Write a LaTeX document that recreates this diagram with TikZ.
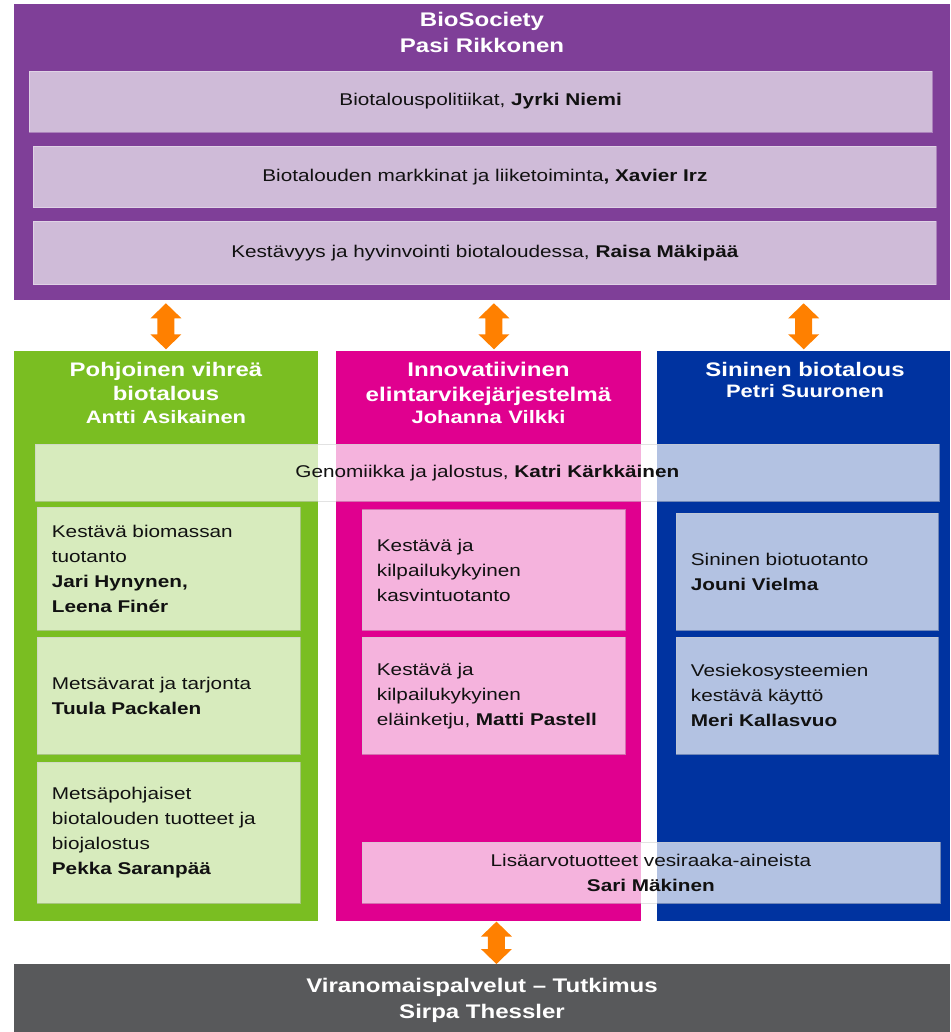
\documentclass[tikz,border=0pt]{standalone}
\usepackage{fontspec}
\setmainfont{Liberation Sans}[FakeStretch=1.22]
\usetikzlibrary{calc}

\definecolor{bsPurple}{RGB}{127,63,152}
\definecolor{bsLilac}{RGB}{207,187,216}
\definecolor{bsGreen}{RGB}{122,190,34}
\definecolor{bsMagenta}{RGB}{224,0,143}
\definecolor{bsBlue}{RGB}{0,51,160}
\definecolor{bsGray}{RGB}{88,89,91}
\definecolor{bsOrange}{RGB}{255,128,0}
\definecolor{bsInk}{RGB}{17,17,17}

\begin{document}
\begin{tikzpicture}[x=1pt,y=-1pt,
  panel/.style={rectangle, inner sep=0pt, anchor=north west},
  heading/.style={anchor=base, align=center, text=white, inner sep=0pt},
  lilacbar/.style={rectangle, anchor=north west, inner sep=0pt, fill=bsLilac,
    draw=white, draw opacity=0.35, line width=0.8pt, text=bsInk,
    font=\fontsize{17}{25}\selectfont},
  tint/.style={rectangle, anchor=north west, inner ysep=0pt, fill=white,
    fill opacity=0.7, text opacity=1, draw=black!20, draw opacity=0.55,
    line width=0.8pt, text=bsInk, font=\fontsize{17}{25}\selectfont},
  leftcell/.style={tint, inner xsep=15pt, align=left},
  midcell/.style={tint, inner xsep=0pt, align=center},
  twoway/.style={fill=bsOrange, draw=none,
    to path={let \p1=(\tikztostart), \p2=(\tikztotarget) in
      (\x1,\y1) -- (\x1+15.5pt,\y1-15pt) -- (\x1+8.5pt,\y1-15pt)
      -- (\x1+8.5pt,\y2+15pt) -- (\x1+15.5pt,\y2+15pt) -- (\x1,\y2)
      -- (\x1-15.5pt,\y2+15pt) -- (\x1-8.5pt,\y2+15pt)
      -- (\x1-8.5pt,\y1-15pt) -- (\x1-15.5pt,\y1-15pt) -- cycle}}]

\useasboundingbox (0,0) rectangle (950,1032);

% BioSociety block with its three cross-cutting themes
\node[panel, fill=bsPurple, minimum width=936.5pt, minimum height=295.5pt] (bio) at (13.5,4) {};
\node[heading, text width=400pt, font=\bfseries\fontsize{19.7}{26}\selectfont] (biohead) at (482,26.5)
  {BioSociety\\Pasi Rikkonen};
\node[lilacbar, minimum width=903.5pt, minimum height=61pt] (pol) at (28.5,70.7)
  {Biotalouspolitiikat, \textbf{Jyrki Niemi}};
\node[lilacbar, minimum width=903pt, minimum height=61.6pt] (mkt) at (33,145.7)
  {Biotalouden markkinat ja liiketoiminta\textbf{, Xavier Irz}};
\node[lilacbar, minimum width=903pt, minimum height=63.6pt] (sus) at (33,220.7)
  {Kestävyys ja hyvinvointi biotaloudessa, \textbf{Raisa Mäkipää}};

% Three programme columns
\node[panel, fill=bsGreen, minimum width=304.5pt, minimum height=570.5pt] (gcol) at (13.5,350.7) {};
\node[panel, fill=bsMagenta, minimum width=304.5pt, minimum height=570.5pt] (mcol) at (336,350.7) {};
\node[panel, fill=bsBlue, minimum width=293pt, minimum height=570.5pt] (scol) at (657,350.7) {};

\node[heading, text width=300pt, font=\bfseries\fontsize{19.6}{24.5}\selectfont] (ghead) at (166,376)
  {Pohjoinen vihreä\\biotalous\\[-2pt]{\fontsize{18}{22}\selectfont Antti Asikainen}};
\node[heading, text width=300pt, font=\bfseries\fontsize{19.8}{24.5}\selectfont] (mhead) at (488.5,376.5)
  {Innovatiivinen\\elintarvikejärjestelmä\\[-2pt]{\fontsize{18}{22}\selectfont Johanna Vilkki}};
\node[heading, text width=290pt, font=\bfseries\fontsize{19.6}{24.5}\selectfont] (shead) at (805,376.5)
  {Sininen biotalous\\[-3.5pt]{\fontsize{18}{22}\selectfont Petri Suuronen}};

% Theme spanning all three columns
\node[midcell, minimum width=904pt, minimum height=56.7pt] (gen) at (35,444)
  {Genomiikka ja jalostus, \textbf{Katri Kärkkäinen}};

% Green column groups
\node[leftcell, text width=233pt, minimum width=263pt, minimum height=123.5pt] (g1) at (36.5,506.5)
  {Kestävä biomassan\\tuotanto\\\textbf{Jari Hynynen,}\\\textbf{Leena Finér}};
\node[leftcell, text width=233pt, minimum width=263pt, minimum height=117.5pt] (g2) at (36.5,636.5)
  {Metsävarat ja tarjonta\\\textbf{Tuula Packalen}};
\node[leftcell, text width=233pt, minimum width=263pt, minimum height=141pt] (g3) at (36.5,761.5)
  {Metsäpohjaiset\\biotalouden tuotteet ja\\biojalostus\\\textbf{Pekka Saranpää}};

% Magenta column groups
\node[leftcell, text width=233.5pt, minimum width=263.5pt, minimum height=120.7pt] (m1) at (361.5,509.3)
  {Kestävä ja\\kilpailukykyinen\\kasvintuotanto};
\node[leftcell, text width=233.5pt, minimum width=263.5pt, minimum height=117.5pt] (m2) at (361.5,636.5)
  {Kestävä ja\\kilpailukykyinen\\eläinketju, \textbf{Matti Pastell}};

% Blue column groups
\node[leftcell, text width=232.5pt, minimum width=262.5pt, minimum height=117.3pt] (s1) at (675.5,512.7)
  {Sininen biotuotanto\\\textbf{Jouni Vielma}};
\node[leftcell, text width=232.5pt, minimum width=262.5pt, minimum height=117.5pt] (s2) at (675.5,636.5)
  {Vesiekosysteemien\\kestävä käyttö\\\textbf{Meri Kallasvuo}};

% Theme shared by the food and blue columns
\node[midcell, minimum width=578pt, minimum height=61pt] (val) at (361.5,841.7)
  {Lisäarvotuotteet vesiraaka-aineista\\\textbf{Sari Mäkinen}};

% Authority services block
\node[panel, fill=bsGray, minimum width=936.5pt, minimum height=68pt] (gray) at (13.5,964) {};
\node[heading, text width=600pt, font=\bfseries\fontsize{19.7}{26}\selectfont] (grayhead) at (482,992.3)
  {Viranomaispalvelut – Tutkimus\\Sirpa Thessler};

% Two-way links
\path[twoway] ([yshift=-3.4pt]bio.south -| gcol.north) to ([yshift=1.4pt]gcol.north);
\path[twoway] ([yshift=-3.4pt,xshift=5.5pt]bio.south -| mcol.north) to ([yshift=1.4pt,xshift=5.5pt]mcol.north);
\path[twoway] ([yshift=-3.4pt]bio.south -| scol.north) to ([yshift=1.4pt]scol.north);
\path[twoway] ([xshift=8pt]mcol.south) to ([xshift=8pt]mcol.south |- gray.north);
\end{tikzpicture}
\end{document}
